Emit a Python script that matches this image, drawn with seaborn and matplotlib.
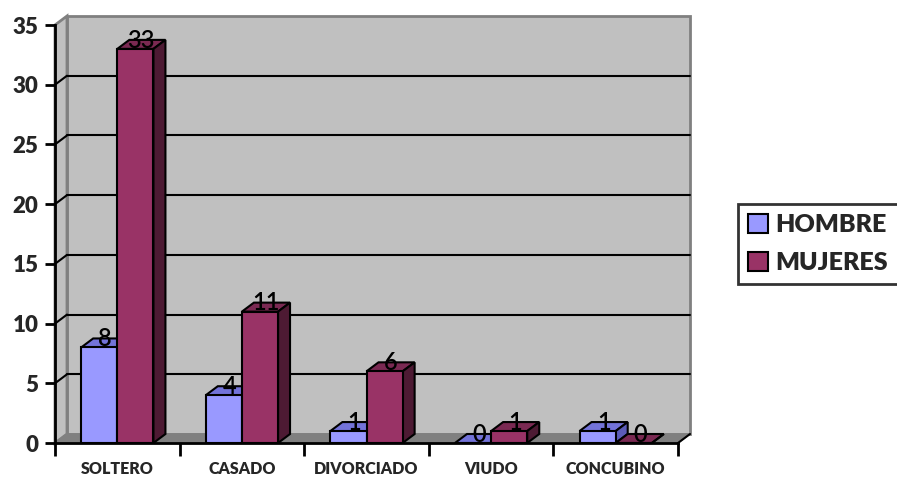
import pandas as pd
import seaborn as sns
import matplotlib.pyplot as plt
from matplotlib.patches import Polygon, Patch
from matplotlib.lines import Line2D
from matplotlib.font_manager import FontProperties

# Data
categorias = ["SOLTERO", "CASADO", "DIVORCIADO", "VIUDO", "CONCUBINO"]
hombre = [8, 4, 1, 0, 1]
mujeres = [33, 11, 6, 1, 0]
series = ["HOMBRE", "MUJERES"]
colores = {"HOMBRE": "#9999FF", "MUJERES": "#993366"}
tops = {"HOMBRE": "#7373D9", "MUJERES": "#7A2952"}
sides = {"HOMBRE": "#5C5CB8", "MUJERES": "#4D1A33"}
yticks = list(range(0, 36, 5))

df = pd.DataFrame({
    "estado": categorias * 2,
    "n": hombre + mujeres,
    "sexo": ["HOMBRE"] * 5 + ["MUJERES"] * 5,
})

sns.set_style("white")
plt.rcParams["font.family"] = "Lato"

W, H = 897, 478
fig = plt.figure(figsize=(W / 100, H / 100), dpi=100)
ax = fig.add_axes([55 / W, 35 / H, 623 / W, 418 / H])

sns.barplot(data=df, x="estado", y="n", hue="sexo", palette=colores,
            width=0.58, edgecolor="black", linewidth=1.5, saturation=1,
            ax=ax, zorder=3, legend=False)
ax.set_xlim(-0.5, 4.5)
ax.set_ylim(0, 35)

# depth of the 3D effect in data units (12 px right, 9 px up)
DX = 12 / (623 / 5)
DY = 9 / (418 / 35)
x0, x1 = -0.5, 4.5

# walls and floor
ax.add_patch(Polygon([(x0 + DX, DY), (x1 + DX, DY), (x1 + DX, 35 + DY), (x0 + DX, 35 + DY)],
                     facecolor="#C0C0C0", edgecolor="#808080", lw=2, zorder=0, clip_on=False))
ax.add_patch(Polygon([(x0, 0), (x0 + DX, DY), (x0 + DX, 35 + DY), (x0, 35)],
                     facecolor="#C0C0C0", edgecolor="#808080", lw=2, zorder=0, clip_on=False))
ax.add_patch(Polygon([(x0, 0), (x1, 0), (x1 + DX, DY), (x0 + DX, DY)],
                     facecolor="#808080", edgecolor="#808080", lw=1, zorder=0.5, clip_on=False))
for v in yticks[1:-1]:
    ax.add_line(Line2D([x0 + DX, x1 + DX], [v + DY, v + DY], color="black", lw=1.5, zorder=1, clip_on=False))
    ax.add_line(Line2D([x0, x0 + DX], [v, v + DY], color="black", lw=1.5, zorder=1, clip_on=False))
ax.add_line(Line2D([x1, x1 + DX], [0, DY], color="black", lw=1.5, zorder=4, clip_on=False))

# 3D faces and value labels for each bar
bars = [p for p in ax.patches if p.get_zorder() == 3]
for i, p in enumerate(bars):
    s = series[i // 5]
    x, w, h = p.get_x(), p.get_width(), p.get_height()
    ax.add_patch(Polygon([(x, h), (x + w, h), (x + w + DX, h + DY), (x + DX, h + DY)],
                         facecolor=tops[s], edgecolor="black", lw=1.5, zorder=2.5, clip_on=False))
    ax.add_patch(Polygon([(x + w, 0), (x + w + DX, DY), (x + w + DX, h + DY), (x + w, h)],
                         facecolor=sides[s], edgecolor="black", lw=1.5, zorder=2.5, clip_on=False))
    ax.text(x + w / 2 + DX / 2, h + 0.1, f"{h:.0f}", ha="center", va="baseline",
            family="Lato", fontsize=17, fontweight="semibold", color="black",
            zorder=5, clip_on=False)

# axes styling
for sp in ["top", "right"]:
    ax.spines[sp].set_visible(False)
for sp in ["left", "bottom"]:
    ax.spines[sp].set_color("black")
    ax.spines[sp].set_linewidth(2)
    ax.spines[sp].set_zorder(4)
ax.set_yticks(yticks, labels=[str(v) for v in yticks],
              family="Lato", fontweight=800, fontsize=16)
ax.tick_params(axis="y", length=7, width=2, color="black", pad=5, left=True)
ax.set_xticks(range(len(categorias)), labels=categorias,
              family="Lato", fontweight=800, fontsize=11.5)
ax.set_xticks([i - 0.5 for i in range(6)], minor=True)
ax.tick_params(axis="x", which="minor", length=9, width=2, color="black", bottom=True)
ax.tick_params(axis="x", which="major", length=0, pad=13)
ax.set_xlabel("")
ax.set_ylabel("")

handles = [Patch(facecolor=colores[s], edgecolor="black", lw=1.5, label=s) for s in series]
leg = fig.legend(handles=handles, loc="center left", bbox_to_anchor=(738 / W, 1 - 244 / H),
                 frameon=True, fancybox=False, edgecolor="black",
                 prop=FontProperties(family="Lato", weight=800, size=18),
                 handlelength=0.8, handleheight=0.8,
                 handletextpad=0.3, labelspacing=0.6, borderpad=0.4, borderaxespad=0)
leg.get_frame().set_linewidth(2)

fig.savefig("out.png", dpi=100)
